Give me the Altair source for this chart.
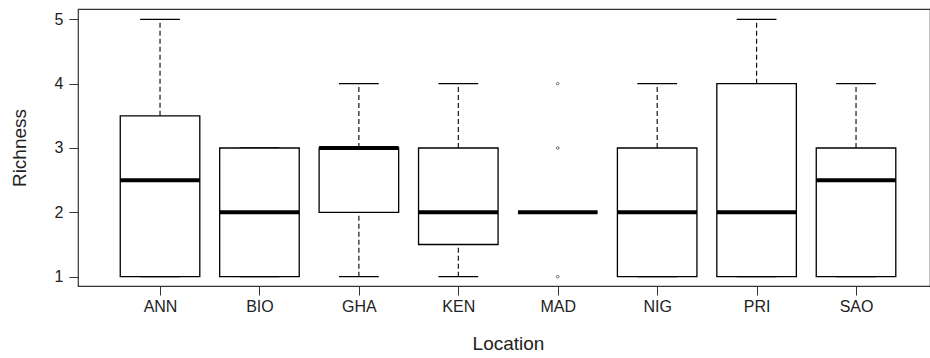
import altair as alt
import pandas as pd

locations = ["ANN", "BIO", "GHA", "KEN", "MAD", "NIG", "PRI", "SAO"]
mins = [1, 1, 1, 1, 2, 1, 1, 1]
q1s = [1, 1, 2, 1.5, 2, 1, 1, 1]
medians = [2.5, 2, 3, 2, 2, 2, 2, 2.5]
q3s = [3.5, 3, 3, 3, 2, 3, 4, 3]
maxs = [5, 3, 4, 4, 2, 4, 5, 4]
outlier_loc = ["MAD", "MAD", "MAD"]
outlier_val = [1, 3, 4]

idx = list(range(1, len(locations) + 1))
df = pd.DataFrame({"idx": idx, "loc": locations, "min": mins, "q1": q1s,
                   "med": medians, "q3": q3s, "max": maxs})
upper = df[df["max"] > df["q3"]][["idx", "q3", "max"]].rename(columns={"q3": "a", "max": "b"})
lower = df[df["min"] < df["q1"]][["idx", "min", "q1"]].rename(columns={"min": "a", "q1": "b"})
whisk = pd.concat([upper, lower], ignore_index=True)
caps = pd.concat([df[["idx"]].assign(v=df["max"]), df[["idx"]].assign(v=df["min"])], ignore_index=True)
out_df = pd.DataFrame({"idx": [locations.index(l) + 1 for l in outlier_loc], "v": outlier_val})

label_expr = "[" + ",".join("'%s'" % l for l in locations) + "][datum.value - 1]"

xscale = alt.Scale(domain=[0.175, 8.744], nice=False, zero=False)
yscale = alt.Scale(domain=[0.855, 5.16], nice=False, zero=False)

FONT = "Liberation Sans"

xaxis = alt.Axis(values=idx, labelExpr=label_expr, title="Location", grid=False,
                 domain=False, tickSize=9, tickColor="#333", labelFontSize=16,
                 labelFont=FONT, labelColor="#222", labelPadding=3,
                 titleFont=FONT, titleFontSize=19, titleFontWeight="normal",
                 titleColor="#222", titleBaseline="alphabetic", titleY=63, titleX=430)
yaxis = alt.Axis(values=[1, 2, 3, 4, 5], format="d", title="Richness", grid=False, domain=False,
                 tickSize=9, tickColor="#333", labelFontSize=16, labelFont=FONT,
                 labelColor="#222", labelPadding=6, titleFont=FONT, titleFontSize=19,
                 titleFontWeight="normal", titleColor="#222", titleBaseline="middle",
                 titleX=-59, titleAngle=-90)

base = alt.Chart(df)

boxes = base.transform_calculate(xl="datum.idx - 0.4", xr="datum.idx + 0.4").mark_rect(
    fill="white", stroke="black", strokeWidth=1.3
).encode(
    x=alt.X("xl:Q", scale=xscale, axis=xaxis),
    x2="xr:Q",
    y=alt.Y("q1:Q", scale=yscale, axis=yaxis),
    y2="q3:Q",
)

whiskers = alt.Chart(whisk).mark_rule(color="black", strokeWidth=1.1, strokeDash=[5, 3]).encode(
    x=alt.X("idx:Q", scale=xscale),
    y=alt.Y("a:Q", scale=yscale),
    y2="b:Q",
)

staples = alt.Chart(caps).transform_calculate(xl="datum.idx - 0.2", xr="datum.idx + 0.2").mark_rule(
    color="black", strokeWidth=1.3
).encode(
    x=alt.X("xl:Q", scale=xscale),
    x2="xr:Q",
    y=alt.Y("v:Q", scale=yscale),
)

meds = base.transform_calculate(xl="datum.idx - 0.4", xr="datum.idx + 0.4").mark_rule(
    color="black", strokeWidth=4
).encode(
    x=alt.X("xl:Q", scale=xscale),
    x2="xr:Q",
    y=alt.Y("med:Q", scale=yscale),
)

outs = alt.Chart(out_df).mark_point(shape="circle", filled=False, size=7, color="#333",
                                     strokeWidth=1).encode(
    x=alt.X("idx:Q", scale=xscale),
    y=alt.Y("v:Q", scale=yscale),
)

chart = alt.layer(whiskers, staples, boxes, meds, outs).properties(
    width=852, height=277,
    autosize=alt.AutoSizeParams(type="none"),
    padding={"left": 78, "top": 9, "right": 0, "bottom": 72},
    background="white",
).configure_view(stroke="#333", strokeWidth=1.2)

chart.save("out.html", embed_options={"renderer": "svg", "actions": False})
